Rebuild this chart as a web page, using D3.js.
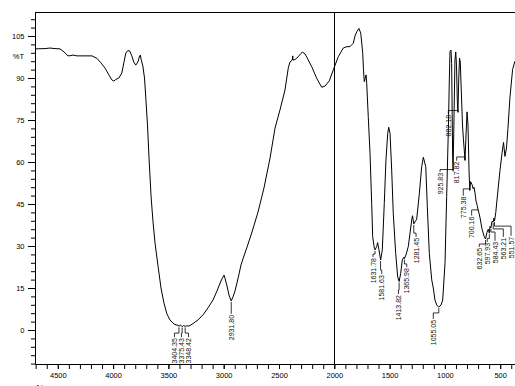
<!DOCTYPE html>
<html><head><meta charset="utf-8">
<script src="https://cdn.jsdelivr.net/npm/d3@7"></script>
<style>body{margin:0;background:#fff}svg{display:block}text{font-family:"Liberation Sans",Arial,sans-serif}</style>
</head><body><svg id="c" width="515" height="386"></svg>
<script>
const wavenumbers=[4706,4616,4571,4525,4480,4444,4408,4381,4363,4327,4191,4146,4110,4074,4038,4011,3993,3975,3948,3921,3903,3885,3867,3849,3831,3813,3795,3776,3763,3754,3745,3731,3716,3703,3689,3675,3657,3639,3621,3594,3567,3540,3513,3486,3449,3422,3415,3404,3392,3375,3362,3348,3335,3314,3277,3232,3187,3142,3097,3061,3025,3007,2997,2989,2970,2952,2932,2916,2898,2880,2859,2844,2823,2789,2744,2690,2636,2581,2536,2491,2446,2416,2401,2380,2376,2373,2355,2326,2301,2286,2265,2247,2204,2159,2114,2084,2045,2009,1964,1919,1885,1858,1828,1813,1797,1777,1761,1750,1743,1736,1729,1720,1713,1707,1693,1677,1662,1653,1638,1632,1617,1608,1596,1581,1566,1548,1533,1517,1508,1496,1481,1467,1445,1427,1414,1400,1385,1370,1366,1352,1331,1300,1293,1281,1255,1231,1210,1195,1173,1159,1141,1119,1105,1090,1072,1055,1035,1020,999,984,969,960,954,945,939,930,926,918,909,902,895,888,882,875,868,861,852,841,832,818,809,800,791,782,775,768,755,745,737,728,718,708,700,690,682,664,646,633,620,608,598,592,584,575,563,556,551,540,520,502,484,470,457,443,430,412,388,367];
const transmittance=[100.4,100.5,100.7,100.5,100.4,99.3,97.9,98.0,98.2,97.9,97.9,97.0,95.4,93.6,91.1,89.3,88.9,89.5,90.0,91.8,95.4,98.9,99.8,99.6,97.9,95.7,94.6,95.7,97.5,98.2,96.4,94.3,90.0,82.1,73.2,61.4,47.9,38.6,31.1,22.9,15.0,9.6,5.7,3.6,2.1,1.7,1.8,1.3,1.8,1.2,1.6,1.3,1.5,1.4,2.3,3.6,5.4,7.9,10.7,13.9,17.5,18.9,19.6,18.6,15.7,12.5,10.4,11.8,13.9,16.8,20.4,23.2,25.7,29.6,35.0,42.1,50.7,61.4,72.1,78.6,85.7,93.6,95.7,96.4,97.9,96.4,96.6,97.6,98.8,99.2,98.6,97.3,94.0,89.9,86.7,87.1,89.0,92.9,97.6,100.7,101.2,101.2,102.4,105.0,106.5,107.7,106.0,101.8,98.8,92.9,88.7,89.9,91.1,88.1,76.2,63.1,45.2,33.3,29.2,28.6,29.8,31.2,28.6,25.0,28.6,45.2,60.7,70.2,72.4,70.2,57.1,41.7,27.4,19.0,17.3,20.2,25.0,26.0,25.5,26.8,29.8,39.3,40.8,37.9,39.6,48.8,58.3,61.7,58.3,44.0,27.4,17.9,15.0,10.7,8.8,8.2,8.9,10.7,23.8,47.6,71.4,89.3,99.4,100.0,95.2,61.9,57.0,75.0,96.4,99.3,94.6,82.0,77.9,89.3,97.1,95.7,85.7,73.2,67.9,60.7,69.6,77.9,73.2,57.1,50.0,53.0,52.0,50.5,51.0,49.0,46.0,44.5,43.0,41.5,40.0,36.0,33.5,32.5,34.8,36.0,34.6,37.0,36.5,38.8,38.6,40.0,39.0,42.0,50.0,57.0,63.0,67.0,62.0,65.0,72.0,83.0,93.0,96.0];

const xTickValues=[4500,4000,3500,3000,2500,2000,1500,1000,500];
const yTickValues=[0,15,30,45,60,75,90,105];

const peakLabels=["3404.35","3375.43","3348.42","2931.80","1631.78","1581.63","1413.82","1365.98","1281.45","1055.05","925.83","882.18","817.82","775.38","700.16","632.65","597.93","584.43","563.21","551.57"];
const peakWavenumbers=[3404.35,3375.43,3348.42,2931.80,1631.78,1581.63,1413.82,1365.98,1281.45,1055.05,925.83,882.18,817.82,775.38,700.16,632.65,597.93,584.43,563.21,551.57];
const peakTransmittance=[1.3,1.2,1.3,10.4,28.6,25.0,17.3,25.5,37.9,8.2,57.0,77.9,60.7,50.0,43.0,32.5,34.6,36.5,38.6,39.0];
const labelWavenumbers=[3445,3382,3318,2932,1650,1571,1420,1345,1261,1105,1044,969,893,834,758,689,617,547,472,402];
const labelElbows=[-1.1,-1.1,-1.1,5.8,27.1,21.4,14.3,23.6,34.6,6.1,57.3,78.4,61.8,50.4,42.9,30.7,32.7,35.0,36.1,37.1];
const labelTops=[-2.9,-2.9,-2.9,5.4,25.7,19.6,12.5,22.1,32.9,3.6,56.1,76.8,60.1,47.6,40.5,29.3,31.1,31.5,32.9,33.3];

const pLeft=35,pRight=515,pTop=12,pBottom=364;
const x=d3.scaleLinear().domain([4500,500]).range([57.8,500.2]);
const y=d3.scaleLinear().domain([0,105]).range([330,36]);
const xa=x.copy().domain([x.invert(pLeft),x.invert(pRight)]).range([pLeft,pRight]);
const ya=y.copy().domain([y.invert(pBottom),y.invert(pTop)]).range([pBottom,pTop]);

const svg=d3.select("#c");
svg.append("rect").attr("width",515).attr("height",386).attr("fill","#fff");
svg.append("defs").append("clipPath").attr("id","clip").append("rect")
  .attr("x",pLeft).attr("y",pTop).attr("width",pRight-pLeft).attr("height",pBottom-pTop);

const FONT='"Liberation Sans",Arial,sans-serif';
const yMinor=d3.range(-12,112,3);
const xMinor=d3.range(4700,399,-100);
const gyMinor=svg.append("g").attr("transform",`translate(${pLeft},0)`)
  .call(d3.axisLeft(ya).tickValues(yMinor).tickSize(4).tickFormat("").tickSizeOuter(0));
gyMinor.select(".domain").remove();
const gy=svg.append("g").attr("transform",`translate(${pLeft},0)`)
  .call(d3.axisLeft(ya).tickValues(yTickValues).tickSize(7).tickPadding(3.5).tickSizeOuter(0).tickFormat(d3.format("d")));
gy.selectAll("text").attr("font-size",7.5).attr("fill","#000").attr("font-family",FONT);
const gxMinor=svg.append("g").attr("transform",`translate(0,${pBottom})`)
  .call(d3.axisBottom(xa).tickValues(xMinor).tickSize(5).tickFormat("").tickSizeOuter(0));
gxMinor.select(".domain").remove();
const gx=svg.append("g").attr("transform",`translate(0,${pBottom})`)
  .call(d3.axisBottom(xa).tickValues(xTickValues).tickSize(5).tickPadding(4).tickSizeOuter(0).tickFormat(d3.format("d")));
gx.selectAll("text").attr("font-size",7.5).attr("fill","#000").attr("font-family",FONT);
svg.selectAll(".domain").attr("stroke","#000");
svg.selectAll(".tick line").attr("stroke","#000");

svg.append("line").attr("x1",pLeft).attr("x2",pRight).attr("y1",pTop+0.5).attr("y2",pTop+0.5).attr("stroke","#000");
svg.append("line").attr("x1",Math.round(x(2000))+0.5).attr("x2",Math.round(x(2000))+0.5).attr("y1",pTop).attr("y2",pBottom).attr("stroke","#000");

svg.append("text").attr("x",24).attr("y",59).attr("text-anchor","end").attr("font-size",7.5).attr("font-family",FONT).text("%T");
svg.append("text").attr("x",36).attr("y",389.5).attr("font-size",7.5).attr("font-family",FONT).text("1/cm");

const plot=svg.append("g").attr("clip-path","url(#clip)");
const n=Math.min(wavenumbers.length,transmittance.length);
const pts=d3.range(n).map(i=>[x(wavenumbers[i]),y(transmittance[i])]);
plot.append("path").attr("d",d3.line()(pts)).attr("fill","none").attr("stroke","#000").attr("stroke-width",1);

peakLabels.forEach((t,i)=>{
  const px=x(peakWavenumbers[i]),py=y(peakTransmittance[i]);
  const lx=x(labelWavenumbers[i]),ey=y(labelElbows[i]),ty=y(labelTops[i]);
  plot.append("path").attr("d",d3.line()([[px,py+1],[px,ey],[lx,ey],[lx,ty-1]]))
    .attr("fill","none").attr("stroke","#000").attr("stroke-width",0.8);
  plot.append("text").attr("transform",`translate(${lx+2.5},${ty}) rotate(-90)`)
    .attr("text-anchor","end").attr("font-size",7).attr("font-family",FONT).attr("fill","#111").text(t);
});
</script></body></html>
